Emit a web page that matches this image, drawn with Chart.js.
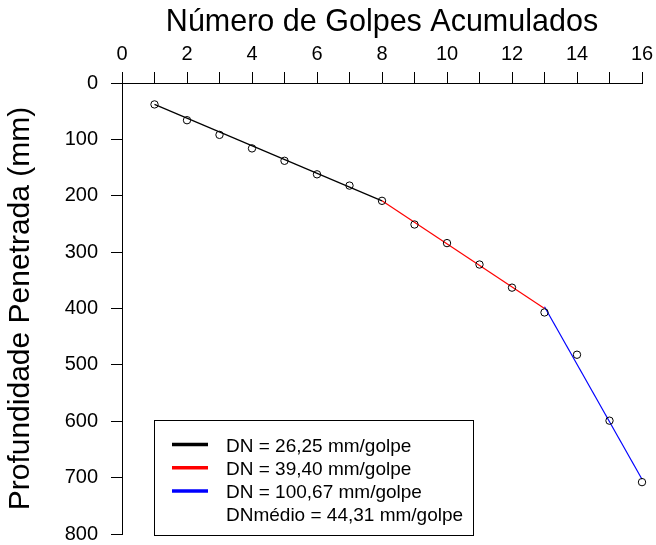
<!DOCTYPE html>
<html><head><meta charset="utf-8">
<script src="https://cdn.jsdelivr.net/npm/chart.js@4"></script>
<style>html,body{margin:0;padding:0;background:#fff;}canvas{display:block;}</style>
</head><body>
<canvas id="c" width="656" height="545"></canvas>
<script>
// ---- data ----
const golpes = [1, 2, 3, 4, 5, 6, 7, 8, 9, 10, 11, 12, 13, 14, 15, 16];
const profundidade = [38, 66, 92, 116, 138, 162, 182, 209, 251, 284, 322, 363, 407, 482, 599, 708];
const trechoPretoX = [1, 8];
const trechoPretoY = [38, 209];
const trechoVermelhoX = [8, 13];
const trechoVermelhoY = [209, 400];
const trechoAzulX = [13, 16];
const trechoAzulY = [397, 703];
const legendLabels = ['DN = 26,25 mm/golpe', 'DN = 39,40 mm/golpe', 'DN = 100,67 mm/golpe', 'DNmédio = 44,31 mm/golpe'];
const xTickLabels = ['0', '2', '4', '6', '8', '10', '12', '14', '16'];
const yTickLabels = ['0', '100', '200', '300', '400', '500', '600', '700', '800'];
const xTitle = 'Número de Golpes Acumulados';
const yTitle = 'Profundidade Penetrada (mm)';

const FONT = "'Liberation Sans', Arial, Helvetica, sans-serif";
const toPts = (xs, ys) => xs.map((x, i) => ({x: x, y: ys[i]}));

const legendPlugin = {
  id: 'boxLegend',
  afterDraw(chart) {
    const ctx = chart.ctx;
    ctx.save();
    ctx.strokeStyle = '#000';
    ctx.lineWidth = 1;
    ctx.strokeRect(154.5, 420.5, 319, 115);
    const colors = [chart.data.datasets[1].borderColor, chart.data.datasets[2].borderColor, chart.data.datasets[3].borderColor, null];
    ctx.font = '19px ' + FONT;
    ctx.fillStyle = '#000';
    ctx.textBaseline = 'middle';
    ctx.textAlign = 'left';
    legendLabels.forEach((t, i) => {
      const yc = 446.5 + 23.2 * i;
      if (colors[i]) {
        ctx.beginPath();
        ctx.strokeStyle = colors[i];
        ctx.lineWidth = 3.5;
        ctx.moveTo(172, yc - 2);
        ctx.lineTo(208, yc - 2);
        ctx.stroke();
      }
      ctx.fillText(t, 226, yc);
    });
    ctx.restore();
  }
};

new Chart(document.getElementById('c'), {
  type: 'scatter',
  data: {
    datasets: [
      {
        label: 'pontos',
        data: toPts(golpes, profundidade),
        showLine: false,
        pointStyle: 'circle',
        pointRadius: 3.7,
        pointBorderWidth: 1,
        pointBorderColor: '#000',
        pointBackgroundColor: 'rgba(0,0,0,0)',
        clip: false,
        order: 0
      },
      {label: legendLabels[0], data: toPts(trechoPretoX, trechoPretoY), showLine: true, borderColor: '#000000', borderWidth: 1.2, pointRadius: 0, clip: false, order: 1},
      {label: legendLabels[1], data: toPts(trechoVermelhoX, trechoVermelhoY), showLine: true, borderColor: '#ff0000', borderWidth: 1.2, pointRadius: 0, clip: false, order: 1},
      {label: legendLabels[2], data: toPts(trechoAzulX, trechoAzulY), showLine: true, borderColor: '#0000ff', borderWidth: 1.2, pointRadius: 0, clip: false, order: 1}
    ]
  },
  options: {
    responsive: false,
    animation: false,
    devicePixelRatio: 1,
    layout: {padding: {left: 0, top: 0, right: 14, bottom: 11}},
    plugins: {legend: {display: false}, tooltip: {enabled: false}},
    scales: {
      x: {
        type: 'linear',
        position: 'top',
        min: 0, max: 16,
        afterFit: s => { s.height = 83; s.paddingLeft = 0; s.paddingRight = 0; },
        ticks: {
          stepSize: 1, autoSkip: false, maxRotation: 0,
          color: '#000', font: {family: FONT, size: 20}, padding: 6,
          callback: v => { const i = xTickLabels.indexOf(String(v)); return i >= 0 ? xTickLabels[i] : ''; }
        },
        grid: {drawOnChartArea: false, drawTicks: true, tickLength: 11, color: '#000', lineWidth: 1},
        border: {display: true, color: '#000', width: 1},
        title: {display: true, text: xTitle, color: '#000', font: {family: FONT, size: 30.5}, padding: {top: 4, bottom: 0}}
      },
      y: {
        type: 'linear',
        reverse: true,
        min: 0, max: 800,
        afterFit: s => { s.width = 122; s.paddingTop = 0; s.paddingBottom = 0; },
        ticks: {
          stepSize: 100, autoSkip: false,
          color: '#000', font: {family: FONT, size: 20}, padding: 13,
          callback: v => { const i = yTickLabels.indexOf(String(v)); return i >= 0 ? yTickLabels[i] : ''; }
        },
        grid: {drawOnChartArea: false, drawTicks: true, tickLength: 11, color: '#000', lineWidth: 1},
        border: {display: true, color: '#000', width: 1},
        title: {display: true, text: yTitle, color: '#000', font: {family: FONT, size: 30}, padding: {top: 3, bottom: 0}}
      }
    }
  },
  plugins: [legendPlugin]
});
</script>
</body></html>
